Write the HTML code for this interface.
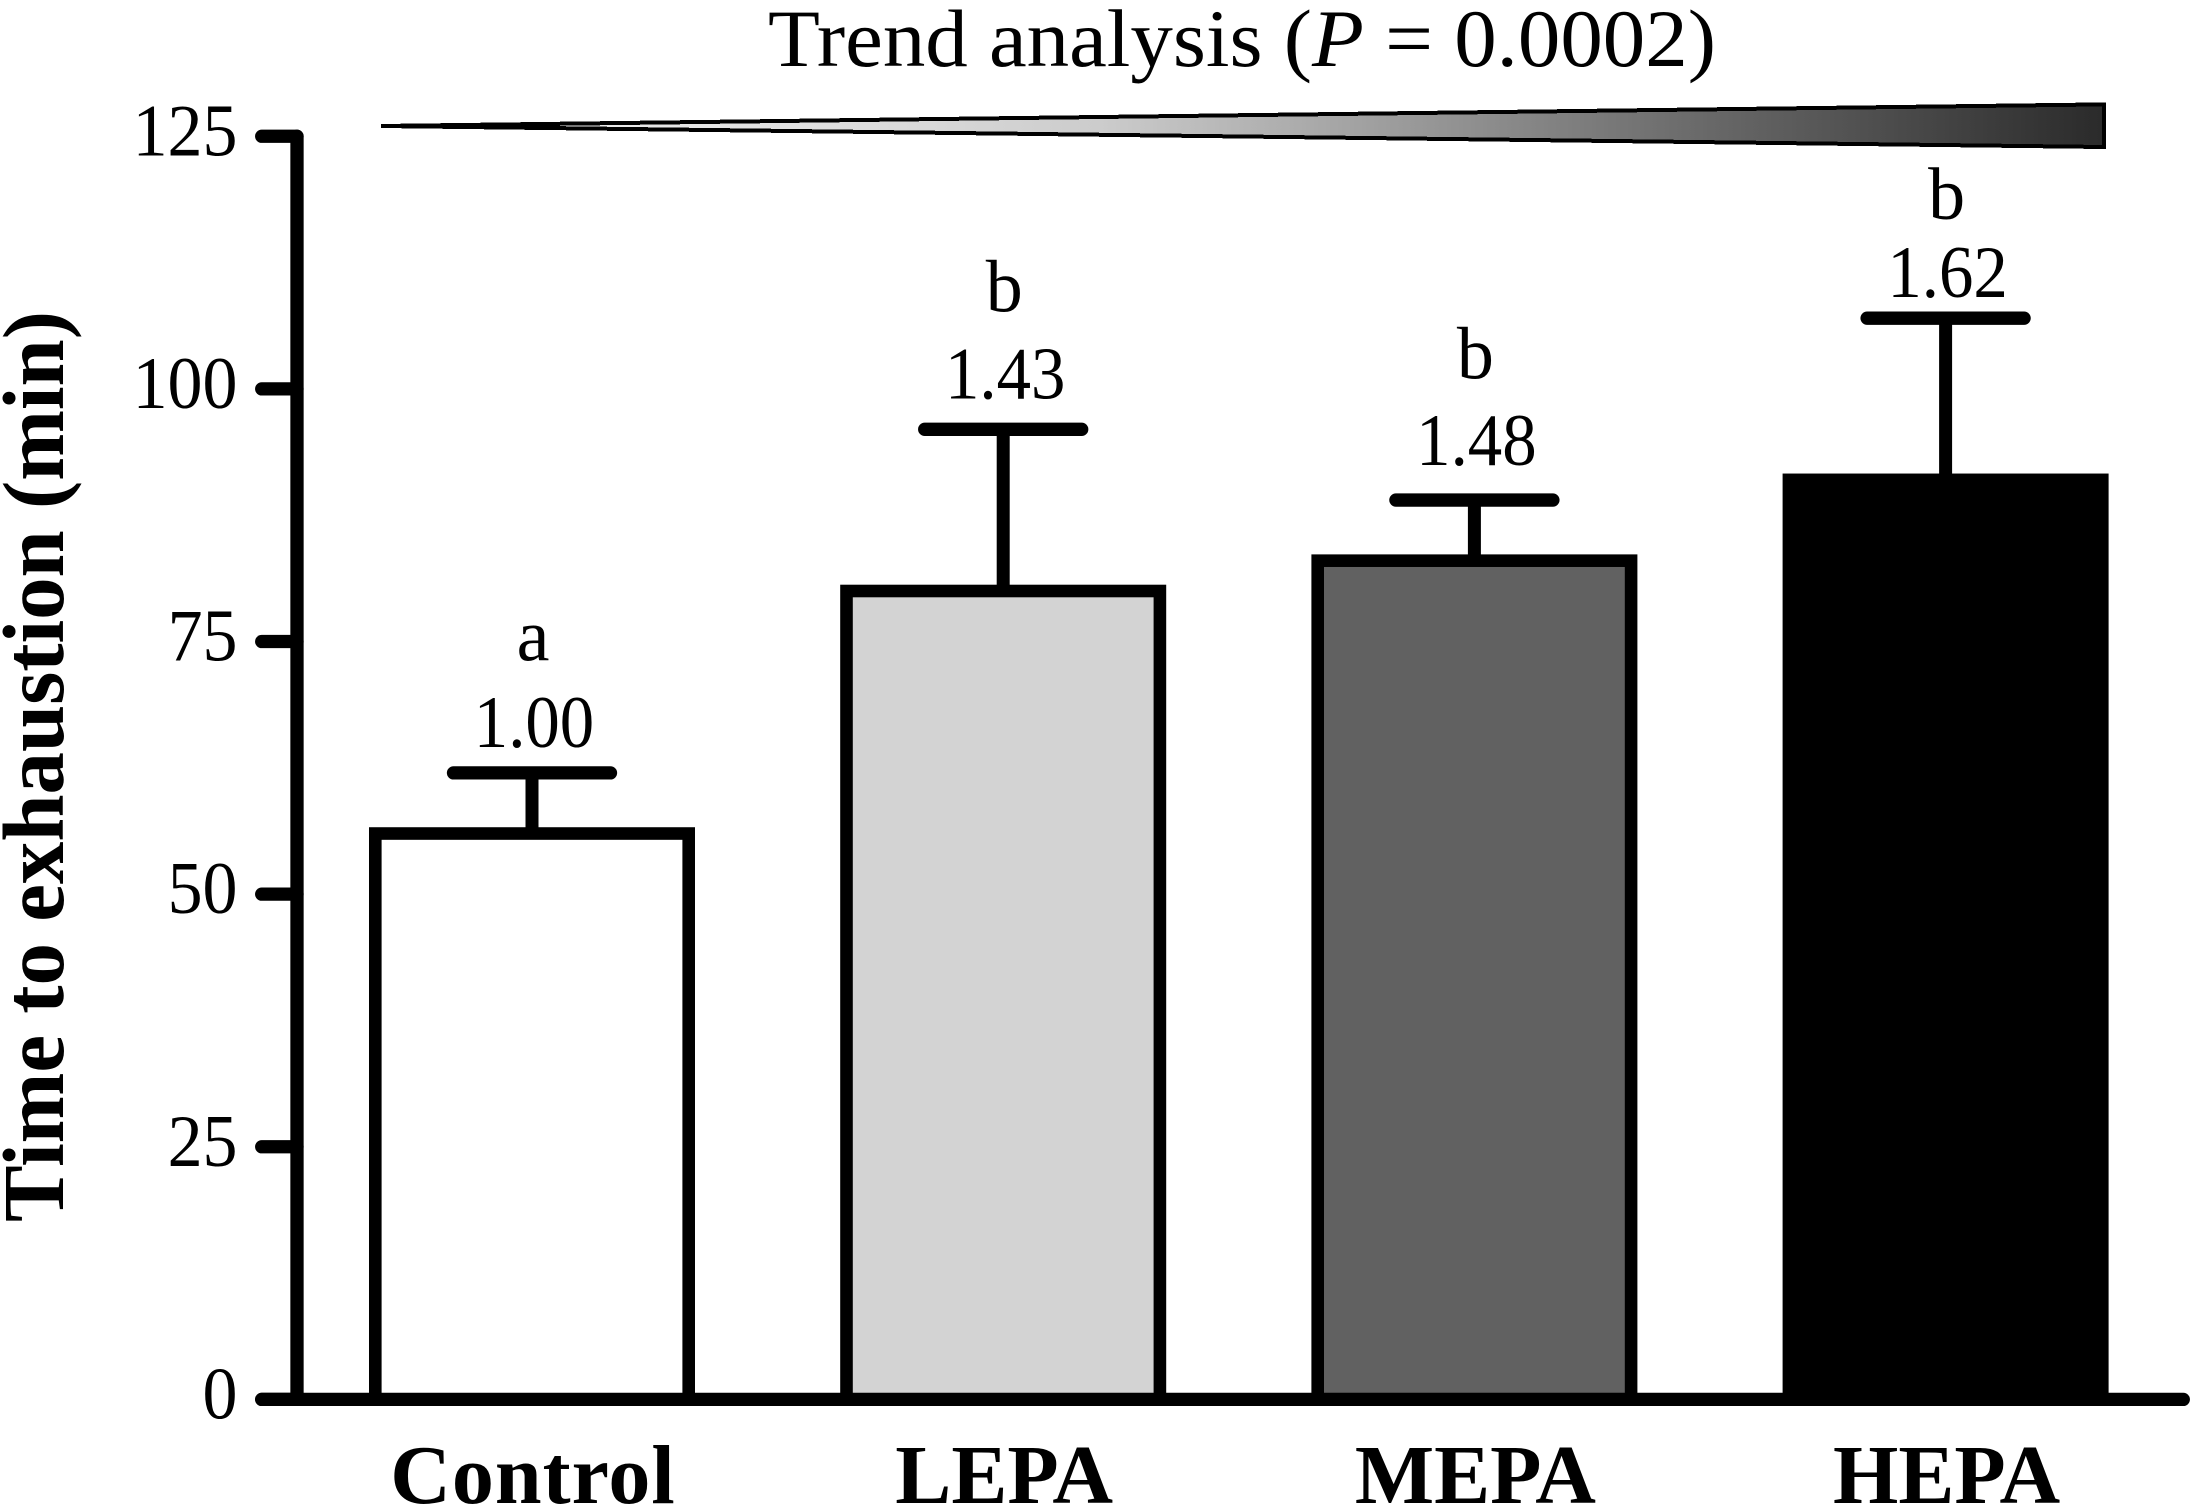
<!DOCTYPE html>
<html lang="en">
<head>
<meta charset="utf-8">
<title>Time to exhaustion by physical activity group</title>
<style>
  html, body { margin: 0; padding: 0; background: #fff; }
  body { width: 2191px; height: 1505px; overflow: hidden; }
  svg { display: block; }
  text { font-family: "Liberation Serif", "Times New Roman", serif; fill: #000; }
  .bold { font-weight: bold; }
  .line { stroke: #000; stroke-width: 13.3; stroke-linecap: round; fill: none; }
  .stem { stroke: #000; stroke-width: 13; fill: none; }
  .bar { stroke: #000; stroke-width: 12.6; }
  .bar-0 { fill: #ffffff; }
  .bar-1 { fill: #d3d3d3; }
  .bar-2 { fill: #616161; }
  .bar-3 { fill: #000000; }
  .num { font-size: 74px; }
  .x-label-0 { letter-spacing: 1px; }
</style>
</head>
<body>
<svg id="chart" xmlns="http://www.w3.org/2000/svg" width="2191" height="1505" viewBox="0 0 2191 1505">
  <defs>
    <linearGradient id="trend-gradient" gradientUnits="userSpaceOnUse" x1="379" y1="0" x2="2106" y2="0">
      <stop offset="0" stop-color="#f4f4f4"/>
      <stop offset="0.284" stop-color="#dcdcdc"/>
      <stop offset="0.417" stop-color="#cccccc"/>
      <stop offset="0.539" stop-color="#aaaaaa"/>
      <stop offset="0.742" stop-color="#707070"/>
      <stop offset="1" stop-color="#2a2a2a"/>
    </linearGradient>
  </defs>
  <rect x="0" y="0" width="2191" height="1505" fill="#fff"/>
  <text x="768" y="66" font-size="82" textLength="948" lengthAdjust="spacingAndGlyphs">Trend analysis (<tspan font-style="italic">P</tspan> = 0.0002)</text>
  <polygon points="381,126 2104,104.4 2104,147" fill="url(#trend-gradient)" stroke="#000" stroke-width="4" shape-rendering="crispEdges"/>
  <text class="bold" transform="translate(63 1222) rotate(-90)" x="0" y="0" font-size="87" textLength="911" lengthAdjust="spacingAndGlyphs">Time to exhaustion (min)</text>
  <g id="marks"></g>
  <g id="axes"></g>
</svg>
<script>
const categories = ['Control', 'LEPA', 'MEPA', 'HEPA'];
const meanMinutes = [56, 80, 83, 91];
const errorMinutes = [6, 16, 6, 16];
const foldChanges = ['1.00', '1.43', '1.48', '1.62'];
const groupLetters = ['a', 'b', 'b', 'b'];
const yTicks = [0, 25, 50, 75, 100, 125];

const SVG_NS = 'http://www.w3.org/2000/svg';
const marks = document.getElementById('marks');
const axes = document.getElementById('axes');

function yScale(v) { return 1399.4 - v * 10.105; }
function xCenter(i) { return 532 + i * 471.2; }

function make(tag, parent, cls) {
  const el = document.createElementNS(SVG_NS, tag);
  if (cls) { el.setAttribute('class', cls); }
  parent.appendChild(el);
  return el;
}
function setLine(el, x1, y1, x2, y2) {
  el.setAttribute('x1', x1);
  el.setAttribute('y1', y1);
  el.setAttribute('x2', x2);
  el.setAttribute('y2', y2);
}
function condense(el, factor) {
  el.setAttribute('textLength', el.getComputedTextLength() * factor);
  el.setAttribute('lengthAdjust', 'spacingAndGlyphs');
}

const BAR_WIDTH = 313.4;
const CAP_HALF = 78.5;
const NUMBER_GAP = [26, 31, 35, 21];
const LETTER_GAP = 86.6;
const LETTER_MIN_Y = 219;

categories.forEach(function (name, i) {
  const slug = name.toLowerCase();
  const cx = xCenter(i);
  const top = yScale(meanMinutes[i]);
  const capY = yScale(meanMinutes[i] + errorMinutes[i]);

  const stem = make('line', marks, 'stem');
  setLine(stem, cx, capY, cx, top);
  
  

  const cap = make('line', marks, 'line');
  setLine(cap, cx - CAP_HALF, capY, cx + CAP_HALF, capY);
  
  

  const bar = make('rect', marks, 'bar bar-' + i);
  bar.setAttribute('x', cx - BAR_WIDTH / 2);
  bar.setAttribute('y', top);
  bar.setAttribute('width', BAR_WIDTH);
  bar.setAttribute('height', yScale(0) - top);
  
  

  const numberY = capY - NUMBER_GAP[i];
  const num = make('text', marks, 'num');
  num.setAttribute('x', cx + 2);
  num.setAttribute('y', numberY);
  num.setAttribute('text-anchor', 'middle');
  num.textContent = foldChanges[i];
  condense(num, 0.93);
  
  

  const letter = make('text', marks, 'num');
  letter.setAttribute('x', cx + 1);
  letter.setAttribute('y', Math.max(numberY - LETTER_GAP, LETTER_MIN_Y));
  letter.setAttribute('text-anchor', 'middle');
  letter.textContent = groupLetters[i];
  
  

  const label = make('text', axes, 'bold x-label-' + i);
  label.setAttribute('x', cx + 1);
  label.setAttribute('y', 1503);
  label.setAttribute('text-anchor', 'middle');
  label.setAttribute('font-size', '84');
  label.textContent = name;
  
  
});

const yAxis = make('line', axes, 'line');
setLine(yAxis, 297, yScale(yTicks[yTicks.length - 1]), 297, yScale(0));



const xAxis = make('line', axes, 'line');
setLine(xAxis, 261.7, yScale(0), 2183.3, yScale(0));



yTicks.forEach(function (t) {
  const tick = make('line', axes, 'line');
  setLine(tick, 261.7, yScale(t), 297, yScale(t));
  
  

  const lab = make('text', axes, 'num');
  lab.setAttribute('x', 237.5);
  lab.setAttribute('y', yScale(t) + 19);
  lab.setAttribute('text-anchor', 'end');
  lab.textContent = String(t);
  condense(lab, 0.945);
  
  
});
</script>
</body>
</html>
